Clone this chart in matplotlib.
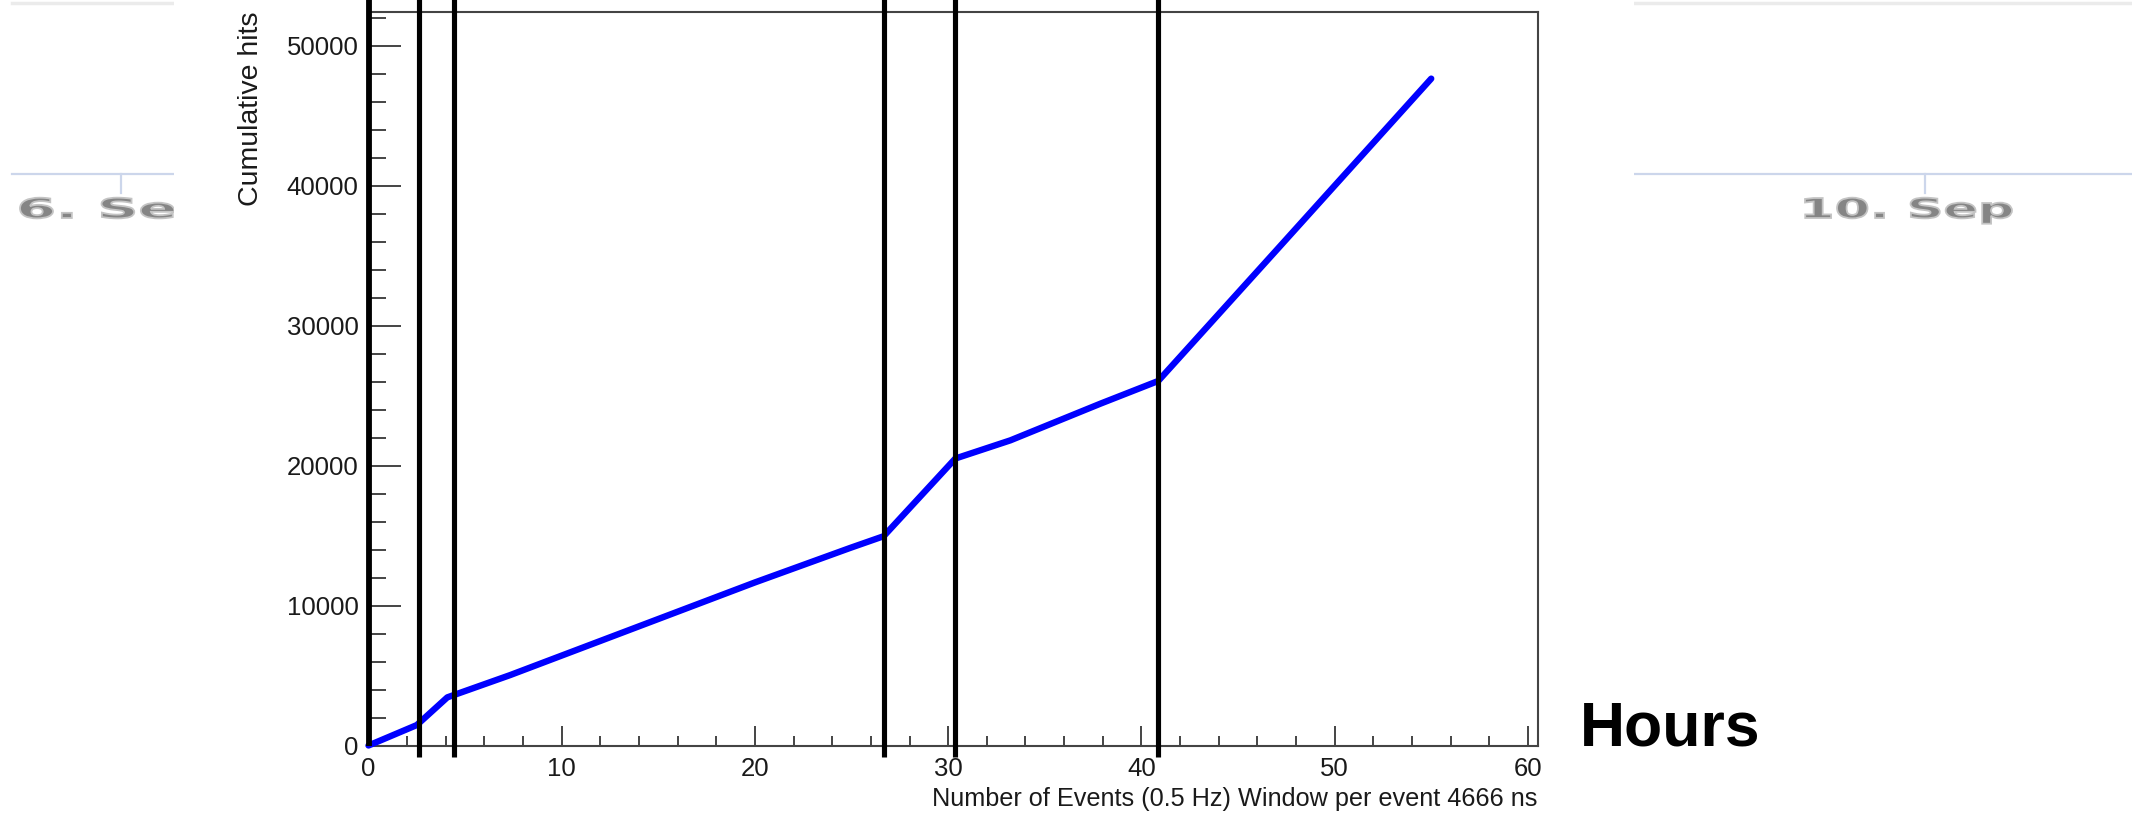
import matplotlib
matplotlib.use("Agg")
import matplotlib.pyplot as plt
from matplotlib.lines import Line2D
from matplotlib.patches import Rectangle, PathPatch
from matplotlib.textpath import TextPath
from matplotlib.font_manager import FontProperties
from matplotlib.transforms import Affine2D
from matplotlib.ticker import MultipleLocator

plt.rcParams['font.family'] = ['Liberation Sans', 'DejaVu Sans']

W, H = 2132, 821

# cumulative hits vs time (hours)
events = [0, 2.5, 4.08, 7.33, 20.0, 24.94, 26.66, 30.37, 33.22, 37.88, 40.87, 47.0, 55.0]
hits = [0, 1460, 3440, 5030, 11650, 14120, 14950, 20500, 21800, 24420, 26040, 35400, 47640]

# vertical marker lines
cuts = [0, 2.6, 4.44, 26.66, 30.37, 40.87]

x_title = "Number of Events (0.5 Hz) Window per event 4666 ns"
y_title = "Cumulative hits"
side_label = "Hours"
bg_labels = ["6. Sep", "10. Sep"]

fig = plt.figure(figsize=(W / 100, H / 100), dpi=100)
fig.patch.set_facecolor('white')


def px(x, y):
    # pixel coords (from top-left) to figure fraction
    return x / W, 1 - y / H


# faded background screenshot remnants
for x0, x1, tick in [(12, 174, 121), (1634, 2132, 1925)]:
    fig.add_artist(Line2D([x0 / W, x1 / W], [px(0, 2.7)[1]] * 2, color='#ebebeb', lw=2.5, zorder=1))
    fig.add_artist(Line2D([x0 / W, x1 / W], [px(0, 174)[1]] * 2, color='#ccd6eb', lw=1.6, zorder=1))
    fig.add_artist(Line2D([tick / W] * 2, [px(0, 174)[1], px(0, 193)[1]], color='#ccd6eb', lw=1.6, zorder=1))

fp = FontProperties(family='DejaVu Sans', weight='bold')
ref = TextPath((0, 0), bg_labels[1], size=1, prop=fp).get_extents()
sx = (2012 - 1805) / ref.width
sy = (218 - 198) / 0.73
for label, left, stretch in zip(bg_labels, [20, 1805], [1.12, 1.0]):
    tp = TextPath((0, 0), label, size=1, prop=fp)
    ext = tp.get_extents()
    tr = (Affine2D().translate(-ext.x0, 0).scale(sx * stretch, sy).translate(left, H - 218)
          .scale(1 / W, 1 / H) + fig.transFigure)
    fig.add_artist(PathPatch(tp, transform=tr, fc='#858585', ec='#c4c4c4', lw=1.3, zorder=1))

# the pasted plot covers the middle of the old screenshot
fig.add_artist(Rectangle((174 / W, 0), (1634 - 174) / W, 1, transform=fig.transFigure,
                         facecolor='white', edgecolor='none', zorder=1.5))

ax = fig.add_axes([368.5 / W, 1 - 745.5 / H, (1537.5 - 368.5) / W, (745.5 - 12) / H])
ax.set_zorder(3)
ax.set_xlim(0, 60.5)
ax.set_ylim(0, 52400)

ax.plot(events, hits, color='#0000ff', lw=4.6, solid_joinstyle='round', solid_capstyle='round',
        zorder=3, clip_on=False)

for c in cuts:
    bottom = 0 if c == 0 else -0.016
    ax.vlines(c, bottom, 1.02, transform=ax.get_xaxis_transform(), color='black',
              lw=4.2 if c == 0 else 3.7, clip_on=False, zorder=4)

for s in ax.spines.values():
    s.set_color('#444444')
    s.set_linewidth(1.5)

ax.xaxis.set_major_locator(MultipleLocator(10))
ax.xaxis.set_minor_locator(MultipleLocator(2))
ax.yaxis.set_major_locator(MultipleLocator(10000))
ax.yaxis.set_minor_locator(MultipleLocator(2000))
ax.tick_params(axis='both', which='both', direction='in', color='#444444', width=1.4,
               labelsize=18.5, labelcolor='#1a1a1a')
ax.tick_params(axis='x', which='major', length=14.4, pad=8.3)
ax.tick_params(axis='x', which='minor', length=7.2)
ax.tick_params(axis='y', which='major', length=23, pad=7.2)
ax.tick_params(axis='y', which='minor', length=12)

ax.set_xlabel(x_title, fontsize=18.2, loc='right', color='#1a1a1a')
ax.xaxis.set_label_coords(1.0, -0.056)
ax.set_ylabel(y_title, fontsize=20.5, loc='top', color='#1a1a1a')
ax.yaxis.set_label_coords(-0.0894, 1.0)

fig.text(*px(1580, 745), side_label, fontsize=45, fontweight='bold', ha='left', va='baseline',
         zorder=5)

fig.savefig("out.png", dpi=100)
